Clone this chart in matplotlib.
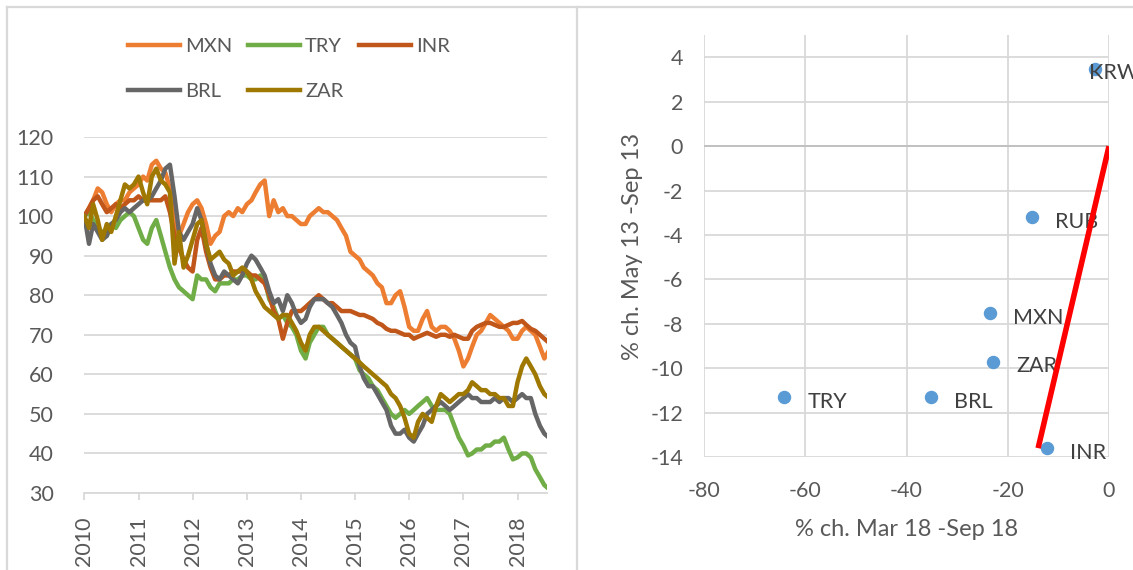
import matplotlib
matplotlib.use("Agg")
import matplotlib.dates as mdates
import matplotlib.pyplot as plt
import pandas as pd
from matplotlib.lines import Line2D

# ---- left panel: exchange rates vs USD, index Jan 2010 = 100 (monthly reads) ----
months = pd.date_range("2010-01-01", periods=104, freq="MS")

mxn = [100, 102, 104, 107, 106, 103, 101, 103, 104, 104, 106, 107,
       108, 110, 109, 113, 114, 112, 111, 107, 97, 95, 98, 101,
       103, 104, 102, 98, 93, 95, 96, 100, 101, 100, 102, 101,
       103, 104, 106, 108, 109, 100, 104, 101, 102, 100, 100, 99,
       98, 98, 100, 101, 102, 101, 101, 100, 99, 97, 95, 91,
       90, 89, 87, 86, 85, 83, 82, 78, 78, 80, 81, 77,
       72, 71, 71, 74, 76, 72, 71, 72, 72, 71, 69, 66,
       62, 64, 67, 70, 71, 73, 75, 74, 73, 72, 71, 69,
       69, 71, 72, 71, 70, 67, 64, 66]
try_ = [100, 101, 99, 97, 96, 95, 98, 97, 99, 100, 101, 100,
        97, 94, 93, 97, 99, 95, 91, 87, 84, 82, 81, 80,
        79, 85, 84, 84, 82, 81, 83, 83, 83, 84, 84, 85,
        85, 84, 84, 85, 84, 79, 77, 74, 75, 73, 72, 70,
        66, 64, 68, 70, 72, 72, 70, 69, 68, 67, 66, 65,
        64, 61, 60, 59, 57, 56, 54, 52, 50, 49, 50, 51,
        50, 51, 52, 53, 54, 52, 51, 51, 51, 50, 47, 44,
        42, 39.5, 40, 41, 41, 42, 42, 43, 43, 44, 41, 38.5,
        39, 40, 40, 39, 36, 34, 32, 31]
inr = [100, 102, 104, 105, 103, 101, 102, 103, 102, 103, 104, 104,
       105, 104, 104, 104, 104, 104, 105, 101, 95, 92, 89, 87,
       86, 94, 97, 91, 87, 84, 84, 85, 85, 86, 86, 86,
       86, 85, 85, 84, 83, 80, 76, 74, 69, 73, 76, 76,
       76, 77, 78, 79, 80, 79, 78, 78, 77, 76, 76, 76,
       75.5, 75, 75, 74.5, 74, 73, 72.5, 71.5, 71, 71, 70.5, 70,
       70, 69, 69.5, 70, 70.5, 70, 69.5, 70, 70, 69.5, 70, 69.5,
       69, 69, 71, 72, 72.5, 73, 73, 72.5, 72, 72, 72.5, 73,
       73, 73.5, 72.5, 71.5, 71, 70, 69, 68]
brl = [100, 93, 98, 96, 94, 95, 98, 99, 101, 102, 101, 102,
       103, 104, 104, 105, 107, 109, 112, 113, 105, 96, 94, 96,
       98, 102, 99, 93, 88, 85, 84, 86, 85, 84, 83, 85,
       88, 90, 89, 87, 85, 81, 78, 79, 76, 80, 78, 75,
       73, 74, 77, 79, 79, 79, 78, 77, 75, 73, 70, 68,
       67, 62, 59, 57, 57, 55, 53, 51, 47, 45, 45, 46,
       44, 43, 45, 47, 50, 51, 52, 53, 52, 51, 52, 53,
       54, 55, 54, 54, 53, 53, 53, 54, 53, 54, 54, 53,
       54, 55, 54, 54, 50, 47, 45, 44]
zar = [100, 97, 103, 99, 94, 98, 96, 100, 104, 108, 107, 108,
       110, 106, 103, 110, 112, 109, 108, 106, 88, 96, 87, 90,
       94, 98, 99, 93, 89, 90, 91, 89, 88, 85, 86, 87,
       86, 84, 81, 79, 77, 76, 75, 74, 75, 75, 73, 71,
       68, 66, 70, 72, 72, 71, 70, 69, 68, 67, 66, 65,
       64, 63, 62, 61, 60, 59, 58, 57, 55, 54, 52, 49,
       45, 44, 48, 50, 49, 48, 52, 55, 54, 53, 54, 55,
       55, 56, 58, 57, 56, 56, 55, 55, 54, 54, 52, 52,
       58, 62, 64, 62, 60, 57, 55, 54]

series = [("MXN", mxn, "#ED7D31"), ("TRY", try_, "#70AD47"), ("INR", inr, "#C0561A"),
          ("BRL", brl, "#666666"), ("ZAR", zar, "#9E7800")]

# ---- right panel: % change in two sell-off episodes ----
ccy = ["KRW", "RUB", "MXN", "ZAR", "TRY", "BRL", "INR"]
chg_2018 = [-2.7, -15.3, -23.6, -23.0, -64.1, -35.2, -12.3]
chg_2013 = [3.5, -3.2, -7.5, -9.7, -11.3, -11.3, -13.6]
red_x = [-14.0, 0.0]
red_y = [-13.6, 0.0]

plt.rcParams["font.family"] = ["Lato", "DejaVu Sans"]
plt.rcParams["axes.unicode_minus"] = False

GRID = "#D9D9D9"
TXT = "#595959"

fig = plt.figure(figsize=(11.33, 5.70), dpi=100)

# chart-area borders
for xs, ys in [([7, 1133], [7, 7]), ([7, 7], [7, 570]), ([577, 577], [7, 570])]:
    fig.add_artist(Line2D([x / 1133 for x in xs], [1 - y / 570 for y in ys],
                          transform=fig.transFigure, color=GRID, lw=1.6))

# left: time series
ax = fig.add_axes([84.4 / 1133, 1 - 493 / 570, (547 - 84.4) / 1133, (493 - 137) / 570])
handles = {}
for name, vals, col in series:
    (ln,) = ax.plot(months, vals, color=col, lw=3.2, solid_joinstyle="round")
    handles[name] = ln
ax.set_ylim(30, 120)
ax.set_yticks(range(30, 121, 10))
ax.set_xlim(pd.Timestamp("2010-01-01"), pd.Timestamp("2018-07-19"))
ax.xaxis.set_major_locator(mdates.YearLocator())
ax.xaxis.set_major_formatter(mdates.DateFormatter("%Y"))
ax.grid(axis="y", color=GRID, lw=1.3)
ax.set_axisbelow(True)
for s in ["top", "right", "left"]:
    ax.spines[s].set_visible(False)
ax.spines["bottom"].set_color(GRID)
ax.spines["bottom"].set_linewidth(1.3)
ax.tick_params(axis="y", length=0, pad=22, labelsize=15.5, labelcolor=TXT)
ax.tick_params(axis="x", length=5, width=1.3, color=GRID, pad=12, labelsize=15.5,
               labelcolor=TXT, labelrotation=90)

order = ["MXN", "BRL", "TRY", "ZAR", "INR"]
leg = fig.legend([handles[n] for n in order], order, ncol=3, frameon=False,
                 loc="upper left", bbox_to_anchor=(128 / 1133, 1 - 38 / 570),
                 fontsize=14.5, handlelength=2.6, handletextpad=0.25,
                 columnspacing=0.75, labelspacing=1.4, borderpad=0, borderaxespad=0)
for t in leg.get_texts():
    t.set_color(TXT)
for h in leg.legend_handles:
    h.set_linewidth(3.2)

# right: scatter
bx = fig.add_axes([704 / 1133, 1 - 457 / 570, (1109 - 704) / 1133, (457 - 35.3) / 570])
bx.set_xlim(-80, 0)
bx.set_ylim(-14, 5)
bx.set_xticks(range(-80, 1, 20))
bx.set_yticks(range(-14, 5, 2))
bx.grid(True, color=GRID, lw=1.3)
bx.axhline(0, color="#BFBFBF", lw=1.3, zorder=1)
bx.set_axisbelow(True)
for s in bx.spines.values():
    s.set_visible(False)
bx.tick_params(length=0, labelsize=15.5, labelcolor=TXT)
bx.tick_params(axis="y", pad=15)
bx.tick_params(axis="x", pad=17)
bx.scatter(chg_2018, chg_2013, s=75, color="#5B9BD5", zorder=3, clip_on=False)
for name, x, y in zip(ccy, chg_2018, chg_2013):
    off = (-4.5, -3) if name == "KRW" else (17, -3.5)
    bx.annotate(name, (x, y), xytext=off, textcoords="offset points", ha="left",
                va="center", fontsize=15.5, color="#404040", zorder=4)
bx.plot(red_x, red_y, color="#FF0000", lw=4, zorder=5, solid_capstyle="butt")
bx.set_xlabel("% ch. Mar 18 -Sep 18", fontsize=17, color=TXT, labelpad=13)
bx.set_ylabel("% ch. May 13 -Sep 13", fontsize=17, color=TXT, labelpad=5)

fig.savefig("out.png", dpi=100)
